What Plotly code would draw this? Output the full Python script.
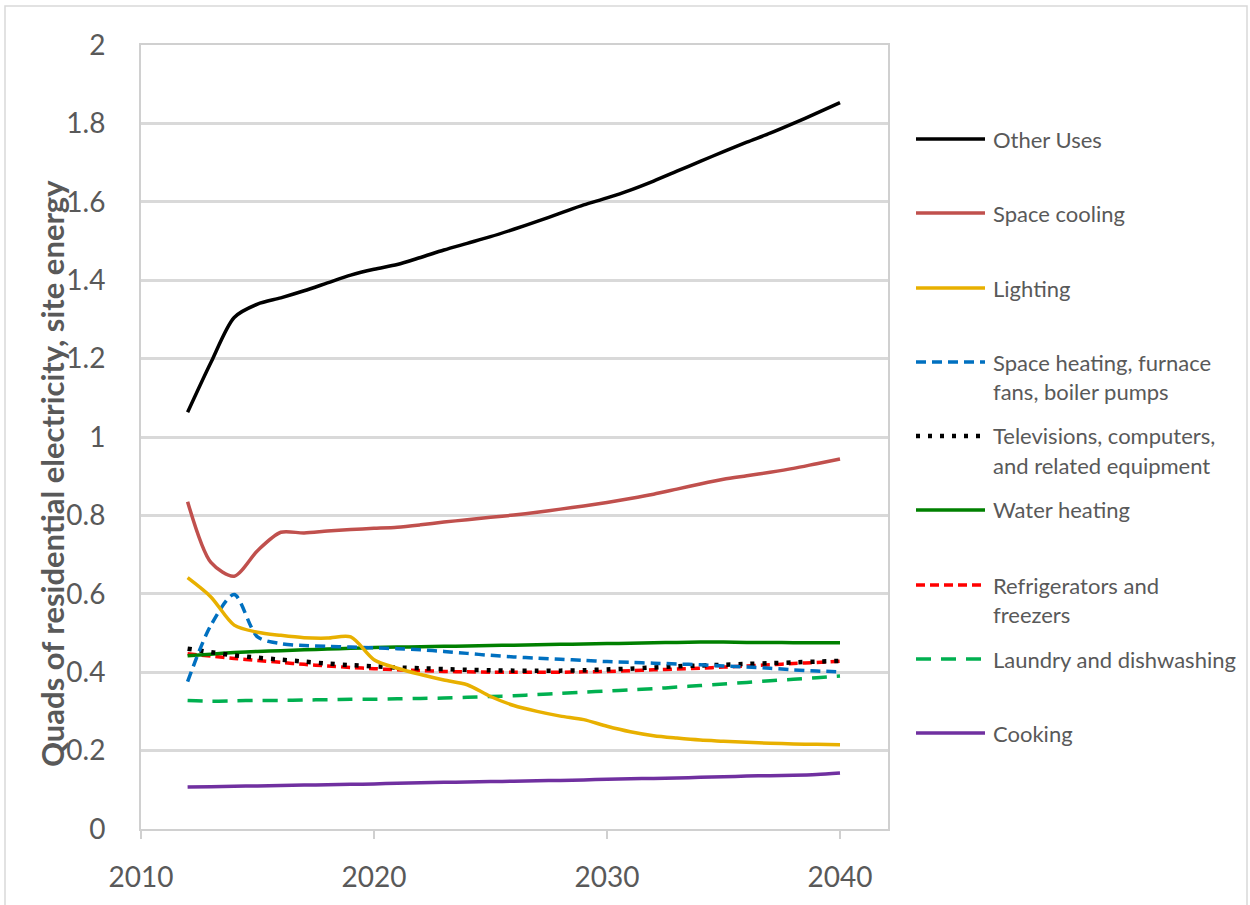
import plotly.graph_objects as go

years = list(range(2012, 2041))

other_uses = [1.063, 1.19, 1.305, 1.339, 1.355, 1.373, 1.393, 1.413, 1.428, 1.44,
              1.458, 1.477, 1.494, 1.511, 1.53, 1.55, 1.571, 1.592, 1.61, 1.63,
              1.653, 1.678, 1.703, 1.728, 1.752, 1.775, 1.80, 1.826, 1.853]
space_cooling = [0.835, 0.68, 0.645, 0.71, 0.757, 0.755, 0.76, 0.764, 0.767, 0.77,
                 0.776, 0.783, 0.789, 0.795, 0.801, 0.808, 0.816, 0.824, 0.833, 0.843,
                 0.854, 0.867, 0.88, 0.892, 0.901, 0.91, 0.92, 0.932, 0.944]
lighting = [0.641, 0.592, 0.52, 0.502, 0.494, 0.488, 0.487, 0.49, 0.432, 0.41,
            0.394, 0.38, 0.368, 0.338, 0.315, 0.3, 0.288, 0.279, 0.262, 0.248,
            0.238, 0.232, 0.227, 0.224, 0.221, 0.219, 0.217, 0.216, 0.215]
space_heating = [0.376, 0.52, 0.598, 0.49, 0.473, 0.468, 0.466, 0.464, 0.462, 0.46,
                 0.457, 0.453, 0.448, 0.443, 0.439, 0.436, 0.433, 0.43, 0.427, 0.425,
                 0.423, 0.421, 0.419, 0.416, 0.413, 0.41, 0.406, 0.403, 0.401]
televisions = [0.46, 0.451, 0.443, 0.437, 0.432, 0.427, 0.422, 0.418, 0.415, 0.412,
               0.41, 0.408, 0.406, 0.405, 0.404, 0.404, 0.404, 0.405, 0.407, 0.409,
               0.412, 0.415, 0.417, 0.419, 0.421, 0.423, 0.425, 0.427, 0.429]
water_heating = [0.442, 0.446, 0.45, 0.453, 0.455, 0.457, 0.459, 0.461, 0.463, 0.464,
                 0.465, 0.466, 0.467, 0.468, 0.469, 0.47, 0.471, 0.472, 0.473, 0.474,
                 0.475, 0.476, 0.477, 0.477, 0.476, 0.476, 0.475, 0.475, 0.475]
refrigerators = [0.447, 0.441, 0.435, 0.43, 0.425, 0.42, 0.416, 0.412, 0.409, 0.406,
                 0.404, 0.402, 0.401, 0.4, 0.4, 0.4, 0.4, 0.401, 0.402, 0.404,
                 0.406, 0.408, 0.41, 0.413, 0.416, 0.419, 0.422, 0.425, 0.428]
laundry = [0.328, 0.326, 0.327, 0.328, 0.328, 0.329, 0.33, 0.331, 0.331, 0.332,
           0.333, 0.334, 0.336, 0.338, 0.34, 0.343, 0.346, 0.349, 0.352, 0.355,
           0.358, 0.362, 0.366, 0.37, 0.374, 0.378, 0.382, 0.386, 0.39]
cooking = [0.107, 0.108, 0.109, 0.110, 0.111, 0.112, 0.113, 0.114, 0.115, 0.117,
           0.118, 0.119, 0.120, 0.121, 0.122, 0.123, 0.124, 0.125, 0.127, 0.128,
           0.129, 0.130, 0.132, 0.133, 0.135, 0.136, 0.137, 0.139, 0.143]

series = [
    ("Other Uses", other_uses, "#000000", "solid", 3.5),
    ("Space cooling", space_cooling, "#C0504D", "solid", 3.5),
    ("Lighting", lighting, "#E8B000", "solid", 3.5),
    ("Space heating, furnace<br>fans, boiler pumps", space_heating, "#0070C0", "10px,6px", 3.5),
    ("Televisions, computers,<br>and related equipment", televisions, "#000000", "4px,8px", 4.5),
    ("Water heating", water_heating, "#008000", "solid", 3.5),
    ("Refrigerators and<br>freezers", refrigerators, "#FF0000", "9px,5px", 3.5),
    ("Laundry and dishwashing", laundry, "#00B050", "15px,10px", 3.5),
    ("Cooking", cooking, "#7030A0", "solid", 3.5),
]

TXT = "#595959"
FONT = "Lato"

# plot area in pixels
L, R, T, B = 141, 888, 45, 829
W = R - L
H = B - T

def px(x):
    return (x - L) / W

def py(y):
    return (B - y) / H

fig = go.Figure()
# draw in reverse so Other Uses is on top
for name, vals, color, dash, lw in reversed(series):
    fig.add_trace(go.Scatter(
        x=years, y=vals, mode="lines", name=name.replace("<br>", " "),
        line=dict(color=color, width=lw, dash=dash, shape="spline", smoothing=0.8),
        showlegend=False,
    ))

shapes = []
annotations = []
legend_y = [139, 213, 288, 362, 436, 510, 585, 659, 733]
for (name, vals, color, dash, lw), ly in zip(series, legend_y):
    shapes.append(dict(type="line", xref="paper", yref="paper",
                       x0=px(916), x1=px(985), y0=py(ly), y1=py(ly),
                       line=dict(color=color, width=lw, dash=dash)))
    for i, part in enumerate(name.split("<br>")):
        annotations.append(dict(xref="paper", yref="paper", x=px(991), y=py(ly + 29 * i),
                                text=part, showarrow=False, xanchor="left", yanchor="middle",
                                font=dict(family=FONT, size=22, color=TXT)))

# outer chart border
shapes.append(dict(type="rect", xref="paper", yref="paper",
                   x0=px(5), x1=px(1247), y0=py(920), y1=py(6),
                   line=dict(color="#D9D9D9", width=1.5), layer="below"))

annotations.append(dict(xref="paper", yref="paper", x=px(52), y=py(474),
                        text="<b>Quads of residential electricity, site energy</b>",
                        textangle=-90, showarrow=False, xanchor="center", yanchor="middle",
                        font=dict(family=FONT, size=31, color=TXT)))

fig.update_layout(
    width=1250, height=905,
    margin=dict(l=L, r=1250 - R, t=T, b=905 - B, pad=0),
    paper_bgcolor="white", plot_bgcolor="white",
    shapes=shapes, annotations=annotations,
    font=dict(family=FONT, color=TXT),
    xaxis=dict(range=[2010, 2010 + (R - L) / 23.3], tickvals=[2010, 2020, 2030, 2040],
               showgrid=False, showline=True, linecolor="#D0D0D0", linewidth=2, mirror=True,
               ticks="outside", ticklen=8, tickcolor="#D0D0D0", tickwidth=2,
               tickfont=dict(family=FONT, size=28, color=TXT), ticklabelstandoff=14,
               zeroline=False, fixedrange=True),
    yaxis=dict(range=[0, 2], dtick=0.2, tick0=0,
               showgrid=True, gridcolor="#D9D9D9", gridwidth=2.5,
               showline=True, linecolor="#D0D0D0", linewidth=2, mirror=True,
               ticks="", tickfont=dict(family=FONT, size=28, color=TXT), ticklabelstandoff=28,
               zeroline=False, fixedrange=True),
)

fig.write_html("out.html")
